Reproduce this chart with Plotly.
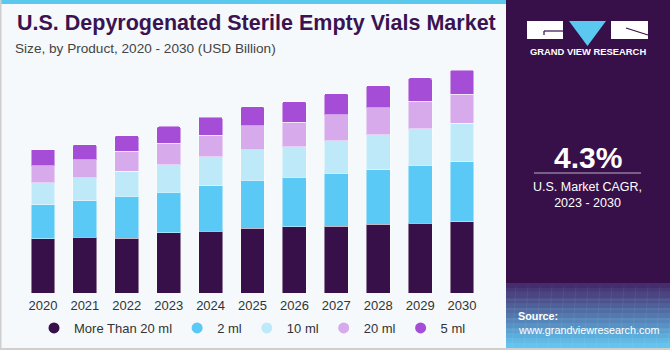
import plotly.graph_objects as go

# ---------------- data (USD Billion) ----------------
years = ["2020", "2021", "2022", "2023", "2024", "2025", "2026", "2027", "2028", "2029", "2030"]
more_than_20ml = [0.996, 1.025, 1.014, 1.112, 1.143, 1.193, 1.217, 1.235, 1.267, 1.285, 1.315]
ml_2 = [0.633, 0.677, 0.774, 0.750, 0.830, 0.885, 0.916, 0.972, 1.009, 1.070, 1.106]
ml_10 = [0.400, 0.419, 0.455, 0.503, 0.535, 0.566, 0.566, 0.603, 0.645, 0.677, 0.706]
ml_20 = [0.319, 0.337, 0.369, 0.393, 0.398, 0.437, 0.448, 0.474, 0.492, 0.503, 0.535]
ml_5 = [0.295, 0.277, 0.290, 0.313, 0.337, 0.350, 0.382, 0.393, 0.411, 0.430, 0.448]
series_names = ["More Than 20 ml", "2 ml", "10 ml", "20 ml", "5 ml"]
series_values = [more_than_20ml, ml_2, ml_10, ml_20, ml_5]
series_colors = ["#371049", "#5BC9F5", "#BDE9F8", "#D6AAEB", "#A54DD6"]
label_year = "2022"
label_text = "$2.9B"
cagr_text = "4.3%"

# ---------------- geometry helpers ----------------
W, H = 670, 350
ML, MR, MT, MB = 22, 187, 60, 57
PW, PH = W - ML - MR, H - MT - MB


def px(x):
    return (x - ML) / PW


def py(y):
    return (H - MB - y) / PH


fig = go.Figure()
for name, vals, col in zip(series_names, series_values, series_colors):
    fig.add_trace(go.Bar(
        x=years, y=vals, name=name, marker_color=col,
        marker_line=dict(color="rgba(255,255,255,0.45)", width=1),
        showlegend=False, legendgroup=name,
    ))
for name, col in zip(series_names, series_colors):
    fig.add_trace(go.Scatter(
        x=[years[0]], y=[None], mode="markers", name=name, legendgroup=name,
        marker=dict(color=col, size=11, symbol="circle"), showlegend=True,
        hoverinfo="skip",
    ))

shapes = []
shapes.append(dict(type="rect", xref="paper", yref="paper", x0=px(0), x1=px(506),
                   y0=py(4), y1=py(0), fillcolor="#5BC8EE", line_width=0, layer="below"))
shapes.append(dict(type="rect", xref="paper", yref="paper", x0=px(0), x1=px(1.5),
                   y0=py(350), y1=py(0), fillcolor="#CFCFCF", line_width=0, layer="below"))
shapes.append(dict(type="rect", xref="paper", yref="paper", x0=px(0), x1=px(670),
                   y0=py(350), y1=py(348), fillcolor="#CFCFCF", line_width=0, layer="below"))
shapes.append(dict(type="rect", xref="paper", yref="paper", x0=px(506), x1=px(670),
                   y0=py(283), y1=py(0), fillcolor="#371049", line_width=0, layer="below"))
c0 = (0x45, 0x2C, 0x6C)
c1 = (0x62, 0xC5, 0xF0)
n = 13
y_top, y_bot = 283, 348
for i in range(n):
    t = i / (n - 1)
    c = tuple(int(round(a + (b - a) * t)) for a, b in zip(c0, c1))
    ya = y_top + (y_bot - y_top) * i / n
    yb = y_top + (y_bot - y_top) * (i + 1) / n
    shapes.append(dict(type="rect", xref="paper", yref="paper", x0=px(506), x1=px(670),
                       y0=py(yb), y1=py(ya), fillcolor="rgb(%d,%d,%d)" % c, line_width=0,
                       layer="below"))
for yy in [292, 300, 309, 319, 330, 342]:
    shapes.append(dict(type="line", xref="paper", yref="paper", x0=px(506), x1=px(670),
                       y0=py(yy), y1=py(yy), line=dict(color="rgba(255,255,255,0.08)", width=1)))
for xx in range(512, 670, 12):
    shapes.append(dict(type="line", xref="paper", yref="paper", x0=px(xx), x1=px(xx + 4),
                       y0=py(348), y1=py(286), line=dict(color="rgba(255,255,255,0.06)", width=1)))
# logo
shapes.append(dict(type="rect", xref="paper", yref="paper", x0=px(527), x1=px(563),
                   y0=py(39), y1=py(21), fillcolor="white", line_width=0))
shapes.append(dict(type="rect", xref="paper", yref="paper", x0=px(611), x1=px(648),
                   y0=py(39), y1=py(21), fillcolor="white", line_width=0))
shapes.append(dict(type="path", xref="paper", yref="paper",
                   path="M %f,%f L %f,%f L %f,%f Z" % (px(569), py(21), px(606), py(21), px(587.5), py(46)),
                   fillcolor="#5BC8F2", line_width=0))
shapes.append(dict(type="line", xref="paper", yref="paper", x0=px(544), x1=px(563),
                   y0=py(31), y1=py(31), line=dict(color="#371049", width=1.2)))
shapes.append(dict(type="line", xref="paper", yref="paper", x0=px(544), x1=px(544),
                   y0=py(31), y1=py(35), line=dict(color="#371049", width=1.2)))
shapes.append(dict(type="line", xref="paper", yref="paper", x0=px(626), x1=px(648),
                   y0=py(28), y1=py(35), line=dict(color="#371049", width=1.2)))
shapes.append(dict(type="line", xref="paper", yref="paper", x0=px(534), x1=px(641),
                   y0=py(173), y1=py(173), line=dict(color="#B9AFC4", width=1)))

annotations = []
FONT = "Liberation Sans, Arial, sans-serif"
annotations.append(dict(xref="paper", yref="paper", x=px(15), y=py(37.5), xanchor="left", yanchor="bottom",
                        text="<b>U.S. Depyrogenated Sterile Empty Vials Market</b>", showarrow=False,
                        font=dict(family=FONT, size=21.5, color="#3A1350")))
annotations.append(dict(xref="paper", yref="paper", x=px(13), y=py(49), xanchor="left", yanchor="middle",
                        text="Size, by Product, 2020 - 2030 (USD Billion)", showarrow=False,
                        font=dict(family=FONT, size=13.6, color="#444444")))
tot = sum(v[years.index(label_year)] for v in series_values)
annotations.append(dict(x=label_year, y=tot, xref="x", yref="y", yanchor="bottom", yshift=6,
                        text=label_text, showarrow=False,
                        font=dict(family=FONT, size=14, color="#333333")))
annotations.append(dict(xref="paper", yref="paper", x=px(587.5), y=py(52), xanchor="center", yanchor="middle",
                        text="<b>GRAND VIEW RESEARCH</b>", showarrow=False,
                        font=dict(family=FONT, size=9.4, color="white")))
annotations.append(dict(xref="paper", yref="paper", x=px(587.5), y=py(157), xanchor="center", yanchor="middle",
                        text="<b>" + cagr_text + "</b>", showarrow=False,
                        font=dict(family=FONT, size=30, color="white")))
annotations.append(dict(xref="paper", yref="paper", x=px(587.5), y=py(195), xanchor="center", yanchor="middle",
                        text="U.S. Market CAGR,<br>2023 - 2030", showarrow=False,
                        font=dict(family=FONT, size=12.5, color="white")))
annotations.append(dict(xref="paper", yref="paper", x=px(516), y=py(316), xanchor="left", yanchor="middle",
                        text="<b>Source:</b>", showarrow=False,
                        font=dict(family=FONT, size=10.8, color="white")))
annotations.append(dict(xref="paper", yref="paper", x=px(516), y=py(329.5), xanchor="left", yanchor="middle",
                        text="www.grandviewresearch.com", showarrow=False,
                        font=dict(family=FONT, size=10.8, color="white")))

fig.update_layout(
    width=W, height=H,
    margin=dict(l=ML, r=MR, t=MT, b=MB, pad=0, autoexpand=False),
    paper_bgcolor="#F5F9FC", plot_bgcolor="#F5F9FC",
    barmode="stack", bargap=0.43, barcornerradius=2,
    font=dict(family=FONT, color="#333333"),
    xaxis=dict(type="category", categoryorder="array", categoryarray=years,
               range=[-0.5, len(years) - 0.5], autorange=False, automargin=False,
               showgrid=False, zeroline=False, showline=False, ticks="",
               ticklabelstandoff=3,
               tickfont=dict(size=13, color="#333333", family=FONT), fixedrange=True),
    yaxis=dict(visible=False, range=[0, 4.296], autorange=False, fixedrange=True),
    legend=dict(orientation="h", xref="container", yref="container",
                xanchor="center", x=252.5 / W, yanchor="middle", y=(H - 328) / H,
                font=dict(size=13, color="#333333", family=FONT), bgcolor="rgba(0,0,0,0)",
                traceorder="normal", itemclick=False),
    shapes=shapes, annotations=annotations, showlegend=True,
)

fig.write_html("out.html")
